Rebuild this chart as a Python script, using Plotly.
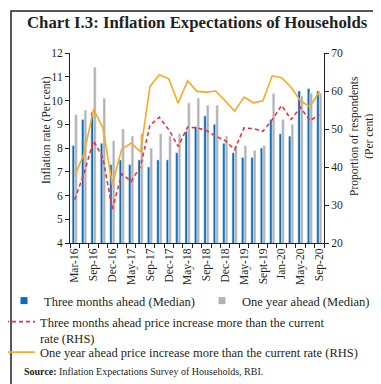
import plotly.graph_objects as go

# ---------------- data ----------------
rounds = ["Mar-16", "Jun-16", "Sep-16", "Nov-16", "Dec-16", "Mar-17", "May-17", "Jun-17",
          "Sep-17", "Nov-17", "Dec-17", "Mar-18", "May-18", "Jun-18", "Sep-18", "Nov-18",
          "Dec-18", "Mar-19", "May-19", "Jul-19", "Sept-19", "Nov-19", "Jan-20", "Mar-20",
          "May-20", "Jul-20", "Sep-20"]
three_month_median = [8.1, 9.2, 9.5, 8.2, 7.3, 7.5, 7.3, 7.5, 7.2, 7.5, 7.5, 7.8, 8.7, 8.9,
                      9.35, 9.0, 8.2, 7.8, 7.6, 7.6, 8.0, 9.2, 8.6, 8.5, 10.4, 10.5, 10.4]
one_year_median = [9.4, 9.6, 11.4, 10.1, 8.3, 8.8, 8.5, 8.6, 8.0, 8.6, 8.5, 8.6, 9.9, 10.1,
                   9.8, 9.8, 8.5, 8.1, 8.1, 7.9, 8.1, 10.3, 9.2, 9.0, 10.2, 10.3, 10.3]
three_month_more = [31.4, 38.4, 46.9, 42.4, 28.9, 38.2, 36.2, 40.2, 51.0, 53.1, 49.8, 45.4,
                    50.5, 50.3, 49.6, 48.1, 46.9, 44.6, 50.3, 50.1, 49.4, 52.5, 56.2, 52.5,
                    55.7, 52.2, 53.8]
one_year_more = [37.6, 43.6, 55.2, 50.3, 35.4, 44.7, 46.3, 44.0, 61.2, 64.3, 63.2, 56.8,
                 62.7, 59.9, 59.7, 60.0, 57.4, 54.7, 58.4, 56.9, 57.4, 64.0, 63.5, 61.0,
                 57.4, 55.9, 59.8]
label_every = 2

# ---------------- styling ----------------
FONT = "Liberation Serif"
INK = "#231f20"
BLUE = "#0a6cbd"
GREY = "#b2b2b2"
RED = "#ee3338"
ORANGE = "#f7aa22"

W, H = 381, 384
L, R, T, B = 62, 65, 45, 149
PW, PH = W - L - R, H - T - B


def px_x(p):
    return (p - L) / PW


def px_y(p):
    return (H - B - p) / PH


x = list(range(len(rounds)))

fig = go.Figure()
fig.add_trace(go.Bar(x=x, y=three_month_median, marker_color=BLUE, name="Three months ahead (Median)",
                     showlegend=False, offsetgroup="a"))
fig.add_trace(go.Bar(x=x, y=one_year_median, marker_color=GREY, name="One year ahead (Median)",
                     showlegend=False, offsetgroup="b"))
fig.add_trace(go.Scatter(x=x, y=three_month_more, yaxis="y2", mode="lines",
                         line=dict(color=RED, width=1.6, dash="4px,3px"),
                         name="Three months ahead price increase more than the current<br>rate (RHS)",
                         legend="legend3"))
fig.add_trace(go.Scatter(x=x, y=one_year_more, yaxis="y2", mode="lines",
                         line=dict(color=ORANGE, width=1.6),
                         name="One year ahead price increase more than the current rate (RHS)",
                         legend="legend4"))
# legend swatches for the bar series (small squares, as in the original)
fig.add_trace(go.Scatter(x=[None], y=[None], mode="markers",
                         marker=dict(symbol="square", size=7, color=BLUE),
                         name="Three months ahead (Median)", legend="legend"))
fig.add_trace(go.Scatter(x=[None], y=[None], mode="markers",
                         marker=dict(symbol="square", size=7, color=GREY),
                         name="One year ahead (Median)", legend="legend2"))

tickvals = x[::label_every]
ticktext = rounds[::label_every]

legfont = dict(family=FONT, size=12.5, color=INK)
common_leg = dict(font=legfont, bgcolor="rgba(0,0,0,0)", borderwidth=0,
                  xref="paper", yref="paper",
                  xanchor="left", yanchor="middle", orientation="v", valign="top")

fig.update_layout(
    width=W, height=H, autosize=False,
    margin=dict(l=L, r=R, t=T, b=B, pad=0, autoexpand=False),
    paper_bgcolor="white", plot_bgcolor="white",
    barmode="group", bargap=0.45, bargroupgap=0,
    font=dict(family=FONT, size=11.5, color=INK),
    xaxis=dict(range=[-0.5, len(rounds) - 0.5], tickmode="array", tickvals=tickvals,
               ticktext=ticktext, tickangle=-90, ticks="", showline=True,
               linecolor=INK, linewidth=1, showgrid=False, zeroline=False,
               tickfont=dict(family=FONT, size=11.5, color=INK),
               minor=dict(tickmode="array", tickvals=[i - 0.5 for i in range(len(rounds) + 1)],
                          ticks="outside", ticklen=4, tickwidth=1, tickcolor=INK, showgrid=False)),
    yaxis=dict(range=[4, 12], dtick=1, ticks="outside", ticklen=4, tickwidth=1, tickcolor=INK,
               showline=True, linecolor=INK, linewidth=1, showgrid=False, zeroline=False,
               tickfont=dict(family=FONT, size=11.5, color=INK)),
    yaxis2=dict(range=[20, 70], dtick=10, overlaying="y", side="right", ticks="outside",
                ticklen=4, tickwidth=1, tickcolor=INK, showline=True, linecolor=INK,
                linewidth=1, showgrid=False, zeroline=False,
                tickfont=dict(family=FONT, size=11.5, color=INK)),
    legend=dict(common_leg, x=px_x(-4), y=px_y(293)),
    legend2=dict(common_leg, x=px_x(194), y=px_y(293)),
    legend3=dict(common_leg, x=px_x(-8), y=px_y(322)),
    legend4=dict(common_leg, x=px_x(-8), y=px_y(344.5)),
    annotations=[
        dict(text="<b>Chart I.3: Inflation Expectations of Households</b>", xref="paper",
             yref="paper", x=px_x(189), y=px_y(14.5), showarrow=False,
             font=dict(family=FONT, size=16.8, color=INK), xanchor="center", yanchor="middle"),
        dict(text="Inflation rate (Per cent)", xref="paper", yref="paper",
             x=px_x(38), y=px_y(122), textangle=-90, showarrow=False,
             font=dict(family=FONT, size=11.5, color=INK), xanchor="center", yanchor="middle"),
        dict(text="Proportion of respondents<br>(Per cent)", xref="paper", yref="paper",
             x=px_x(354), y=px_y(128), textangle=-90, showarrow=False,
             font=dict(family=FONT, size=11.5, color=INK), xanchor="center", yanchor="middle"),
        dict(text="<b>Source:</b> Inflation Expectations Survey of Households, RBI.",
             xref="paper", yref="paper", x=px_x(14), y=px_y(363), showarrow=False,
             font=dict(family=FONT, size=10, color=INK), xanchor="left", yanchor="middle"),
    ],
    shapes=[dict(type="rect", xref="paper", yref="paper",
                 x0=px_x(3), x1=px_x(376.5), y0=px_y(379.5), y1=px_y(3),
                 line=dict(color=INK, width=1.5), fillcolor="rgba(0,0,0,0)", layer="above")],
)

fig.write_html("out.html")
